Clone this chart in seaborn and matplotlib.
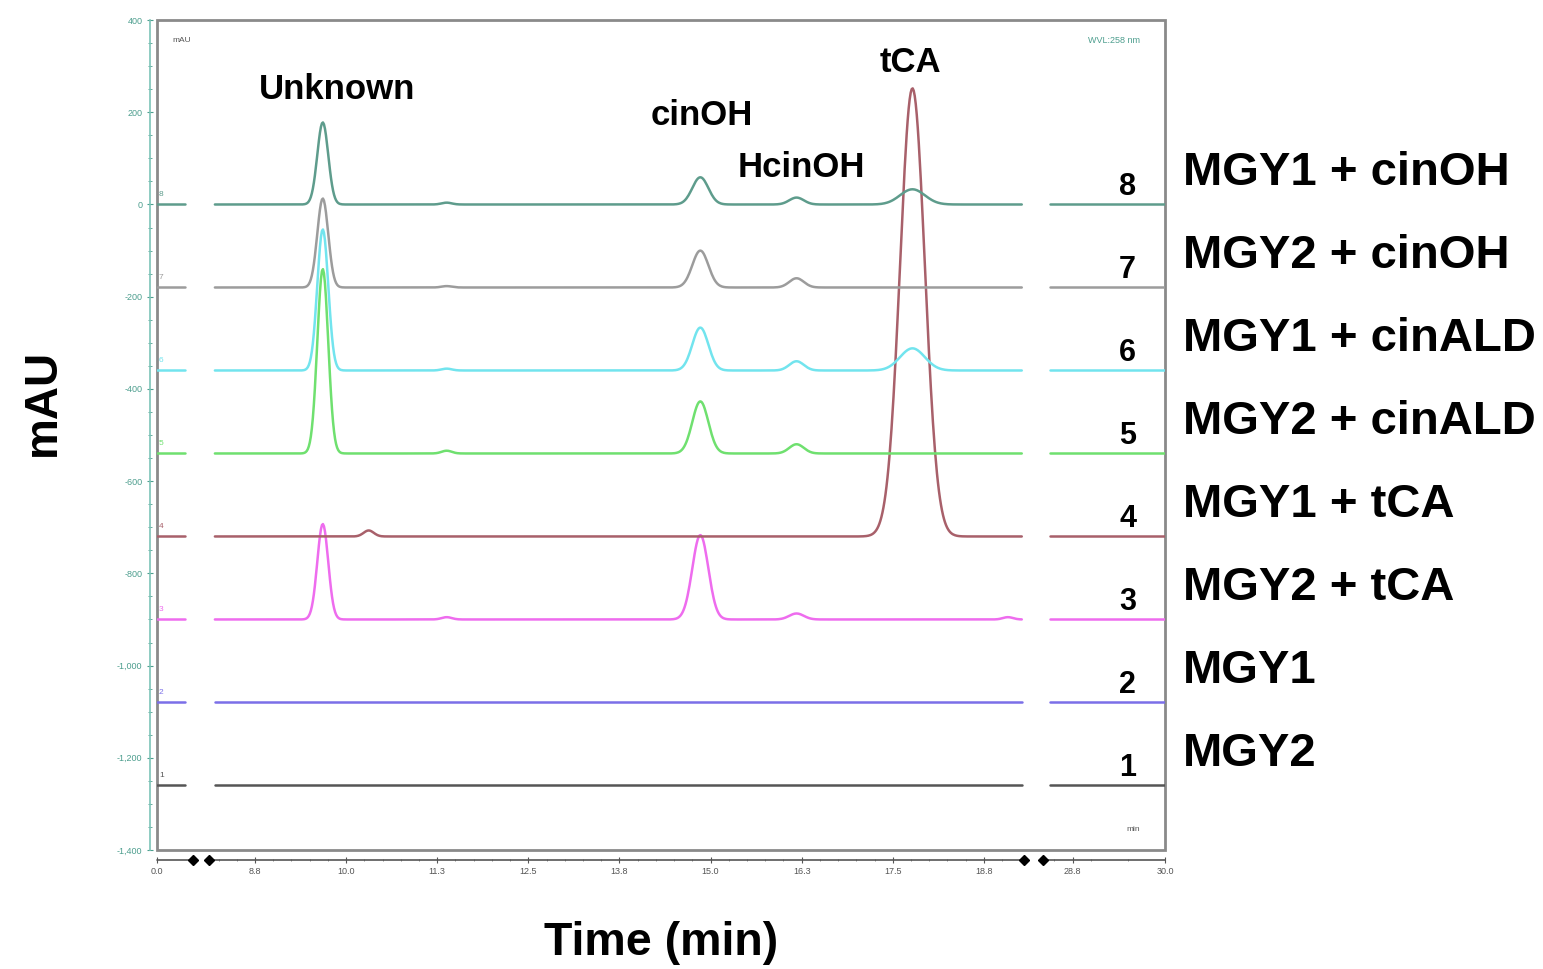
import numpy as np
import pandas as pd
import seaborn as sns
import matplotlib.pyplot as plt
import matplotlib.transforms as mtransforms
from matplotlib.patches import Rectangle
from matplotlib.ticker import FixedLocator, FuncFormatter, MultipleLocator

# trace 1 (bottom) .. trace 8 (top)
trace_no = [1, 2, 3, 4, 5, 6, 7, 8]
sample_names = ["MGY2", "MGY1", "MGY2 + tCA", "MGY1 + tCA",
                "MGY2 + cinALD", "MGY1 + cinALD", "MGY2 + cinOH", "MGY1 + cinOH"]
offsets = [-1260, -1080, -900, -720, -540, -360, -180, 0]
colors = ["#555555", "#7b6fe8", "#ee6cee", "#a8606a",
          "#6fe06f", "#72e4ee", "#9c9c9c", "#5e9c8c"]

# peak table: retention time (min), width sigma (min), height per trace (mAU)
peak_rt = [9.68, 14.86, 16.18, 17.77, 11.38, 10.31, 19.08]
peak_sigma = [0.075, 0.11, 0.10, 0.17, 0.07, 0.07, 0.07]
peak_heights = [
    [0, 0, 207, 0, 400, 306, 193, 178],   # Unknown
    [0, 0, 183, 0, 113, 93, 80, 59],      # cinOH
    [0, 0, 13, 0, 20, 20, 20, 15],        # HcinOH
    [0, 0, 0, 972, 0, 48, 0, 33],         # tCA
    [0, 0, 5, 0, 6, 4, 3, 4],             # small bump
    [0, 0, 0, 13, 0, 0, 0, 0],            # small bump trace 4
    [0, 0, 5, 0, 0, 0, 0, 0],             # small bump trace 3
]

compound_labels = ["Unknown", "cinOH", "HcinOH", "tCA"]
compound_label_x = [9.87, 14.88, 16.25, 17.74]
compound_label_y = [250, 192, 80, 309]

xtick_pos = [0.0, 8.75, 10.0, 11.25, 12.5, 13.75, 15.0, 16.25, 17.5, 18.75, 28.75, 30.0]
xtick_lab = ["0.0", "8.8", "10.0", "11.3", "12.5", "13.8", "15.0", "16.3",
             "17.5", "18.8", "28.8", "30.0"]

# broken time axis: time knots -> display units
t_knots = [0.0, 0.5, 8.125, 19.3, 28.35, 30.0]
u_knots = [0.0, 36.5, 52.5, 867.0, 886.0, 1008.0]
segments = [(0.0, 0.38), (8.2, 19.27), (28.45, 30.0)]


def fwd(t):
    return np.interp(t, t_knots, u_knots)


def inv(u):
    return np.interp(u, u_knots, t_knots)


rows = []
for i, tr in enumerate(trace_no):
    for s, (a, b) in enumerate(segments):
        t = np.linspace(a, b, 800)
        y = np.full_like(t, offsets[i], dtype=float)
        for k, rt in enumerate(peak_rt):
            h = peak_heights[k][i]
            if h:
                y += h * np.exp(-0.5 * ((t - rt) / peak_sigma[k]) ** 2)
        rows.append(pd.DataFrame({"time": t, "signal": y, "trace": str(tr),
                                  "unit": f"{tr}-{s}"}))
df = pd.concat(rows, ignore_index=True)

sns.set_style("white")
plt.rcParams['font.family'] = ['Liberation Sans', 'DejaVu Sans']
plt.rcParams['text.color'] = 'black'
plt.rcParams['axes.labelcolor'] = 'black'

fig = plt.figure(figsize=(15.43, 9.69), dpi=100)
ax = fig.add_axes([0.1017, 0.1228, 0.6533, 0.8565])
ax.set_xscale('function', functions=(fwd, inv))

sns.lineplot(data=df, x="time", y="signal", hue="trace", units="unit",
             estimator=None, sort=False, palette=dict(zip([str(t) for t in trace_no], colors)),
             linewidth=1.8, legend=False, ax=ax)

ax.set_xlim(0, 30)
ax.set_ylim(-1400, 400)

# axes styling
for side in ["top", "right", "bottom"]:
    ax.spines[side].set_visible(False)
ax.spines["left"].set_position(("outward", 5))
ax.spines["left"].set_color("#7cc4b8")
ax.spines["left"].set_linewidth(1.2)
ax.spines["bottom"].set_position(("outward", 7))
ax.add_patch(Rectangle((0, 0), 1, 1, transform=ax.transAxes, fill=False,
                       edgecolor="#8a8a8a", linewidth=2, clip_on=False))

ax.yaxis.set_major_locator(MultipleLocator(200))
ax.yaxis.set_minor_locator(MultipleLocator(50))
ax.yaxis.set_major_formatter(FuncFormatter(lambda v, p: f"{v:,.0f}"))
ax.tick_params(axis="y", which="major", length=4, direction="inout", labelsize=6.5,
               labelcolor="#4d9e8e", color="#4d9e8e", left=True)
ax.tick_params(axis="y", which="minor", length=2.5, direction="inout", color="#4d9e8e", left=True)

ax.xaxis.set_major_locator(FixedLocator(xtick_pos))
ax.set_xticklabels(xtick_lab)
minor_x = [m for m in np.arange(8.25, 19.3, 0.25)] + [28.5, 29.0, 29.5]
ax.xaxis.set_minor_locator(FixedLocator(minor_x))
ax.tick_params(axis="x", which="major", length=4, direction="inout", labelsize=6.5,
               labelcolor="#555555", color="#555555", bottom=True)
ax.tick_params(axis="x", which="minor", length=2, direction="inout", color="#777777", bottom=True)

# broken bottom axis line with break markers
off = mtransforms.ScaledTranslation(0, -7 / 72, fig.dpi_scale_trans)
btrans = mtransforms.blended_transform_factory(ax.transData, ax.transAxes) + off
for a, b in [(0.0, 0.5), (8.125, 19.3), (28.35, 30.0)]:
    ax.plot([a, b], [0, 0], color="#555555", lw=1.2, transform=btrans, clip_on=False)
ax.plot([0.5, 8.125, 19.3, 28.35], [0, 0, 0, 0], ls="none", marker="D", ms=5,
        color="black", transform=btrans, clip_on=False)

# labels
ax.set_xlabel("Time (min)", fontsize=33.5, fontweight="bold", labelpad=32)
ax.set_ylabel("mAU", fontsize=33, fontweight="bold")
ax.yaxis.set_label_coords(-0.091, 0.539)

for name, x, y in zip(compound_labels, compound_label_x, compound_label_y):
    ax.text(x, y, name, fontsize=25, fontweight="bold", ha="center", va="center")

ytrans = mtransforms.blended_transform_factory(ax.transAxes, ax.transData)
for i, tr in enumerate(trace_no):
    ax.text(0.963, offsets[i] + 38, str(tr), transform=ytrans, fontsize=22,
            fontweight="bold", ha="center", va="center")
    ax.text(1.018, offsets[i] + 68, sample_names[i], transform=ytrans, fontsize=34,
            fontweight="bold", ha="left", va="center")
    ax.text(0.002, offsets[i] + 22, str(tr), transform=ytrans, fontsize=6,
            color=colors[i], ha="left", va="center")

ax.text(0.015, 0.975, "mAU", transform=ax.transAxes, fontsize=6, ha="left", va="center",
        color="#555555")
ax.text(0.975, 0.975, "WVL:258 nm", transform=ax.transAxes, fontsize=6.5, ha="right",
        va="center", color="#4d9e8e")
ax.text(0.975, 0.025, "min", transform=ax.transAxes, fontsize=6, ha="right", va="center",
        color="#555555")

fig.savefig("out.png", dpi=100)
